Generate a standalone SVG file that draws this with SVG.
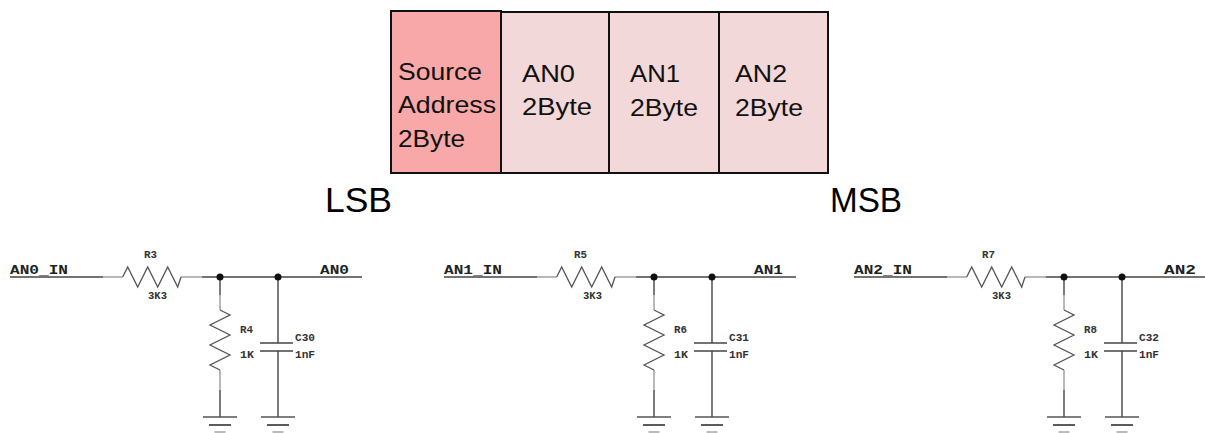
<svg xmlns="http://www.w3.org/2000/svg" xmlns:xlink="http://www.w3.org/1999/xlink" width="1205" height="433" viewBox="0 0 1205 433">
<style>
.box{stroke:#111;stroke-width:2}
.src{fill:#F8A8A8}
.an{fill:#F2D8D8}
.bt{font-family:"Liberation Sans",Arial,sans-serif;font-size:24px;fill:#111}
.big{font-family:"Liberation Sans",Arial,sans-serif;font-size:35px;fill:#000}
.net{font-family:"Liberation Mono","Courier New",monospace;font-weight:bold;font-size:12px;fill:#222}
.lbl{font-family:"Liberation Mono","Courier New",monospace;font-weight:bold;font-size:10px;fill:#333}
.w{stroke:#444;stroke-width:1.4;fill:none}
.ld{stroke:#9a9a9a;stroke-width:1.4;fill:none}
.z{stroke:#555;stroke-width:1.3;fill:none;stroke-linejoin:miter}
.dot{fill:#111}
</style>
<defs>
<polyline id="resH" class="z" points="0,0 5,-10 15,10 25,-10 35,10 45,-10 55,10 58.3,0"/>
<polyline id="resV" class="z" points="0,0 10,5 -10,15 10,25 -10,35 10,45 -10,55 0,60"/>
<g id="gnd">
<line x1="-17" y1="0" x2="17" y2="0" stroke="#555" stroke-width="1.6"/>
<line x1="-11" y1="8" x2="11" y2="8" stroke="#333" stroke-width="1.6"/>
<line x1="-5.5" y1="15" x2="5.5" y2="15" stroke="#aaa" stroke-width="1.6"/>
</g>
<g id="cap">
<line x1="-18" y1="0" x2="15" y2="0" stroke="#444" stroke-width="1.5"/>
<line x1="-18" y1="8" x2="15" y2="8" stroke="#444" stroke-width="1.5"/>
</g>
</defs>

<g id="frame">
<g id="box-source">
<rect class="box src" x="391" y="11" width="110" height="162"/>
<text class="bt" x="398" y="80" textLength="84" lengthAdjust="spacingAndGlyphs">Source</text>
<text class="bt" x="398" y="113" textLength="98" lengthAdjust="spacingAndGlyphs">Address</text>
<text class="bt" x="398" y="147" textLength="67" lengthAdjust="spacingAndGlyphs">2Byte</text>
</g>
<g id="box-an0">
<rect class="box an" x="501" y="12" width="108" height="161"/>
<text class="bt" x="522" y="82" textLength="53" lengthAdjust="spacingAndGlyphs">AN0</text>
<text class="bt" x="522" y="115" textLength="70" lengthAdjust="spacingAndGlyphs">2Byte</text>
</g>
<g id="box-an1">
<rect class="box an" x="609" y="12" width="110" height="161"/>
<text class="bt" x="630" y="82" textLength="50" lengthAdjust="spacingAndGlyphs">AN1</text>
<text class="bt" x="630" y="116" textLength="68" lengthAdjust="spacingAndGlyphs">2Byte</text>
</g>
<g id="box-an2">
<rect class="box an" x="719" y="12" width="109" height="161"/>
<text class="bt" x="735" y="82" textLength="52" lengthAdjust="spacingAndGlyphs">AN2</text>
<text class="bt" x="735" y="116" textLength="68" lengthAdjust="spacingAndGlyphs">2Byte</text>
</g>
<text id="lsb" class="big" x="325" y="212" textLength="67" lengthAdjust="spacingAndGlyphs">LSB</text>
<text id="msb" class="big" x="830" y="212" textLength="72" lengthAdjust="spacingAndGlyphs">MSB</text>
</g>

<!-- Circuit 1 -->
<g id="circuit-an0">
<g id="connectors-an0">
<line class="w" x1="10" y1="277" x2="103" y2="277"/>
<line class="ld" x1="103" y1="277" x2="122.7" y2="277"/>
<line class="ld" x1="181" y1="277" x2="202" y2="277"/>
<line class="w" x1="202" y1="277" x2="362" y2="277"/>
<line class="w" x1="220" y1="277" x2="220" y2="295"/>
<line class="ld" x1="220" y1="295" x2="220" y2="310"/>
<line class="ld" x1="220" y1="370" x2="220" y2="390"/>
<line class="w" x1="220" y1="390" x2="220" y2="417"/>
<line class="w" x1="278" y1="277" x2="278" y2="343"/>
<line class="w" x1="278" y1="351" x2="278" y2="417"/>
</g>
<g id="R3"><use xlink:href="#resH" x="122.7" y="277"/>
<text class="lbl" x="144" y="258" textLength="13" lengthAdjust="spacingAndGlyphs">R3</text>
<text class="lbl" x="148" y="299" textLength="19" lengthAdjust="spacingAndGlyphs">3K3</text></g>
<g id="R4"><use xlink:href="#resV" x="220" y="310"/>
<text class="lbl" x="240" y="333" textLength="13" lengthAdjust="spacingAndGlyphs">R4</text>
<text class="lbl" x="240" y="358" textLength="14" lengthAdjust="spacingAndGlyphs">1K</text></g>
<g id="C30"><use xlink:href="#cap" x="278" y="343"/>
<text class="lbl" x="295" y="341" textLength="20" lengthAdjust="spacingAndGlyphs">C30</text>
<text class="lbl" x="295" y="358" textLength="20" lengthAdjust="spacingAndGlyphs">1nF</text></g>
<circle class="dot" cx="220" cy="277" r="3.5"/>
<circle class="dot" cx="278" cy="277" r="3.5"/>
<use xlink:href="#gnd" x="220" y="417"/>
<use xlink:href="#gnd" x="278" y="417"/>
<text class="net" x="10" y="274" textLength="58" lengthAdjust="spacingAndGlyphs">AN0_IN</text>
<text class="net" x="320" y="274" textLength="29" lengthAdjust="spacingAndGlyphs">AN0</text>
</g>

<!-- Circuit 2 -->
<g id="circuit-an1">
<g id="connectors-an1">
<line class="w" x1="444" y1="277" x2="537" y2="277"/>
<line class="ld" x1="537" y1="277" x2="556.7" y2="277"/>
<line class="ld" x1="615" y1="277" x2="636" y2="277"/>
<line class="w" x1="636" y1="277" x2="796" y2="277"/>
<line class="w" x1="654" y1="277" x2="654" y2="295"/>
<line class="ld" x1="654" y1="295" x2="654" y2="310"/>
<line class="ld" x1="654" y1="370" x2="654" y2="390"/>
<line class="w" x1="654" y1="390" x2="654" y2="417"/>
<line class="w" x1="712" y1="277" x2="712" y2="343"/>
<line class="w" x1="712" y1="351" x2="712" y2="417"/>
</g>
<g id="R5"><use xlink:href="#resH" x="556.7" y="277"/>
<text class="lbl" x="574" y="258" textLength="13" lengthAdjust="spacingAndGlyphs">R5</text>
<text class="lbl" x="583" y="299" textLength="19" lengthAdjust="spacingAndGlyphs">3K3</text></g>
<g id="R6"><use xlink:href="#resV" x="654" y="310"/>
<text class="lbl" x="674" y="333" textLength="13" lengthAdjust="spacingAndGlyphs">R6</text>
<text class="lbl" x="674" y="358" textLength="14" lengthAdjust="spacingAndGlyphs">1K</text></g>
<g id="C31"><use xlink:href="#cap" x="712" y="343"/>
<text class="lbl" x="729" y="341" textLength="20" lengthAdjust="spacingAndGlyphs">C31</text>
<text class="lbl" x="729" y="358" textLength="20" lengthAdjust="spacingAndGlyphs">1nF</text></g>
<circle class="dot" cx="654" cy="277" r="3.5"/>
<circle class="dot" cx="712" cy="277" r="3.5"/>
<use xlink:href="#gnd" x="654" y="417"/>
<use xlink:href="#gnd" x="712" y="417"/>
<text class="net" x="444" y="274" textLength="58" lengthAdjust="spacingAndGlyphs">AN1_IN</text>
<text class="net" x="754" y="274" textLength="29" lengthAdjust="spacingAndGlyphs">AN1</text>
</g>

<!-- Circuit 3 -->
<g id="circuit-an2">
<g id="connectors-an2">
<line class="w" x1="854" y1="277" x2="947" y2="277"/>
<line class="ld" x1="947" y1="277" x2="966.7" y2="277"/>
<line class="ld" x1="1025" y1="277" x2="1046" y2="277"/>
<line class="w" x1="1046" y1="277" x2="1205" y2="277"/>
<line class="w" x1="1064" y1="277" x2="1064" y2="295"/>
<line class="ld" x1="1064" y1="295" x2="1064" y2="310"/>
<line class="ld" x1="1064" y1="370" x2="1064" y2="390"/>
<line class="w" x1="1064" y1="390" x2="1064" y2="417"/>
<line class="w" x1="1122" y1="277" x2="1122" y2="343"/>
<line class="w" x1="1122" y1="351" x2="1122" y2="417"/>
</g>
<g id="R7"><use xlink:href="#resH" x="966.7" y="277"/>
<text class="lbl" x="982" y="258" textLength="13" lengthAdjust="spacingAndGlyphs">R7</text>
<text class="lbl" x="992" y="299" textLength="19" lengthAdjust="spacingAndGlyphs">3K3</text></g>
<g id="R8"><use xlink:href="#resV" x="1064" y="310"/>
<text class="lbl" x="1084" y="333" textLength="13" lengthAdjust="spacingAndGlyphs">R8</text>
<text class="lbl" x="1084" y="358" textLength="14" lengthAdjust="spacingAndGlyphs">1K</text></g>
<g id="C32"><use xlink:href="#cap" x="1122" y="343"/>
<text class="lbl" x="1139" y="341" textLength="20" lengthAdjust="spacingAndGlyphs">C32</text>
<text class="lbl" x="1139" y="358" textLength="20" lengthAdjust="spacingAndGlyphs">1nF</text></g>
<circle class="dot" cx="1064" cy="277" r="3.5"/>
<circle class="dot" cx="1122" cy="277" r="3.5"/>
<use xlink:href="#gnd" x="1064" y="417"/>
<use xlink:href="#gnd" x="1122" y="417"/>
<text class="net" x="854" y="274" textLength="58" lengthAdjust="spacingAndGlyphs">AN2_IN</text>
<text class="net" x="1164" y="274" textLength="32" lengthAdjust="spacingAndGlyphs">AN2</text>
</g>
</svg>
